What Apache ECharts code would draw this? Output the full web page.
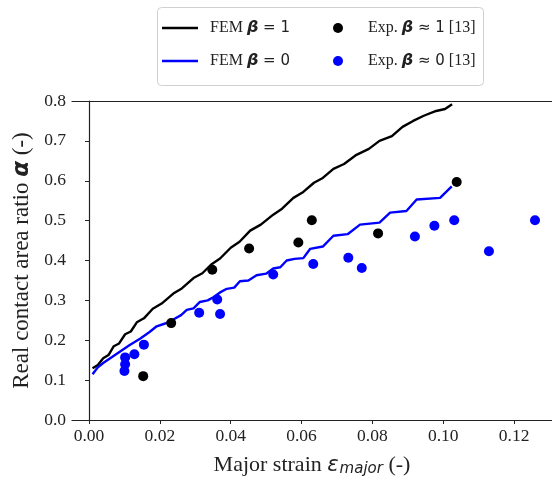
<!DOCTYPE html>
<html>
<head>
<meta charset="utf-8">
<script src="https://cdn.jsdelivr.net/npm/echarts@6/dist/echarts.min.js"></script>
<style>
  html, body { margin: 0; padding: 0; background: #fff; }
  #main { width: 552px; height: 482px; }
</style>
</head>
<body>
<div id="main"></div>
<script>
// FEM curves [strain, ratio]
var femBeta1 = [[0.001,0.130],[0.0025,0.138],[0.004,0.155],[0.0055,0.163],[0.007,0.185],[0.0085,0.192],[0.0102,0.215],[0.0118,0.222],[0.0135,0.245],[0.0155,0.255],[0.018,0.279],[0.0205,0.292],[0.0238,0.317],[0.0262,0.330],[0.0295,0.356],[0.032,0.368],[0.0345,0.390],[0.037,0.405],[0.040,0.432],[0.0425,0.447],[0.0455,0.475],[0.0485,0.490],[0.052,0.515],[0.0545,0.530],[0.0577,0.557],[0.0605,0.572],[0.0635,0.595],[0.066,0.607],[0.069,0.630],[0.072,0.642],[0.0755,0.665],[0.079,0.680],[0.082,0.700],[0.0855,0.712],[0.0885,0.735],[0.0915,0.750],[0.0945,0.763],[0.098,0.775],[0.1005,0.780],[0.1025,0.792]]
var femBeta0 = [[0.001,0.115],[0.0025,0.132],[0.004,0.143],[0.0065,0.158],[0.0088,0.172],[0.0115,0.188],[0.0144,0.204],[0.017,0.220],[0.0191,0.235],[0.0215,0.242],[0.0238,0.252],[0.026,0.263],[0.0276,0.276],[0.0295,0.280],[0.0313,0.296],[0.0335,0.300],[0.0351,0.308],[0.037,0.320],[0.0389,0.329],[0.041,0.332],[0.0426,0.348],[0.045,0.350],[0.0473,0.363],[0.050,0.367],[0.052,0.380],[0.054,0.383],[0.0558,0.400],[0.058,0.404],[0.0605,0.406],[0.0624,0.429],[0.066,0.435],[0.069,0.462],[0.073,0.466],[0.0765,0.490],[0.082,0.495],[0.085,0.520],[0.0896,0.524],[0.0925,0.553],[0.0991,0.557],[0.1024,0.586]]
// experiments [13]
var expBeta1 = [[0.0153,0.110],[0.0232,0.243],[0.0348,0.377],[0.0452,0.430],[0.0591,0.445],[0.0629,0.501],[0.0816,0.468],[0.1038,0.597]]
var expBeta0 = [[0.0100,0.123],[0.0102,0.140],[0.0102,0.157],[0.0128,0.165],[0.0155,0.189],[0.0311,0.269],[0.0362,0.302],[0.0370,0.266],[0.0520,0.365],[0.0633,0.391],[0.0732,0.407],[0.0770,0.381],[0.0920,0.460],[0.0975,0.487],[0.1031,0.501],[0.1129,0.423],[0.1259,0.501]]
var xTicks = [0, 0.02, 0.04, 0.06, 0.08, 0.10, 0.12]

var serif = 'Liberation Serif'
var mathFont = 'DejaVu Sans'

var chart = echarts.init(document.getElementById('main'))

var legendRich = {
    f: { fontFamily: serif, fontSize: 16, color: '#222', padding: [0, 0, 0, 7] },
    t: { fontFamily: serif, fontSize: 16, color: '#222' },
    m: { fontFamily: mathFont, fontSize: 16, fontStyle: 'italic', fontWeight: 'bold', color: '#222' },
    n: { fontFamily: mathFont, fontSize: 15, color: '#222' }
}
// a plain line as legend icon (no symbol)
var lineIcon = 'path://M0,0L36,0L36,2.4L0,2.4Z'

var option = {
    animation: false,
    backgroundColor: '#fff',
    grid: { left: 72, top: 101, right: 0, bottom: 60 },
    graphic: [{
        type: 'rect',
        shape: { x: 157.5, y: 7.5, width: 326, height: 78, r: 4 },
        style: { fill: '#fff', stroke: '#d0d0d0', lineWidth: 1 },
        z: 0
    }],
    legend: [{
        orient: 'vertical',
        left: 157, top: 15,
        itemWidth: 36, itemHeight: 10, itemGap: 17, itemTextGap: 14,
        data: [{ name: 'FEM1', icon: lineIcon }, { name: 'FEM0', icon: lineIcon }],
        formatter: function (name) {
            return name === 'FEM1' ? '{f|FEM }{m|β}{n| = 1}' : '{f|FEM }{m|β}{n| = 0}'
        },
        textStyle: { rich: legendRich }
    }, {
        orient: 'vertical',
        left: 328, top: 15,
        itemWidth: 36, itemHeight: 10, itemGap: 17, itemTextGap: 19,
        data: [{ name: 'EXP1', icon: 'circle' }, { name: 'EXP0', icon: 'circle' }],
        formatter: function (name) {
            return name === 'EXP1' ? '{f|Exp. }{m|β}{n| ≈ 1}{t| [13]}' : '{f|Exp. }{m|β}{n| ≈ 0}{t| [13]}'
        },
        textStyle: { rich: legendRich }
    }],
    xAxis: [{
        type: 'value',
        min: -0.0048, max: 0.1307,
        name: '{t|Major strain }{m|ε}{s|major}{t| (-)}',
        nameLocation: 'middle', nameGap: 34,
        nameTextStyle: {
            rich: {
                t: { fontFamily: serif, fontSize: 22, color: '#222' },
                m: { fontFamily: mathFont, fontSize: 21, fontStyle: 'italic', color: '#222' },
                s: { fontFamily: mathFont, fontSize: 15, fontStyle: 'italic', color: '#222', padding: [8, 0, 0, 1] }
            }
        },
        splitLine: { show: false },
        axisLine: { onZero: false, lineStyle: { color: '#222', width: 1.2 } },
        axisTick: { inside: false, length: 4, customValues: xTicks, lineStyle: { color: '#222' } },
        axisLabel: {
            customValues: xTicks, fontFamily: serif, fontSize: 17.5, color: '#222', margin: 7,
            formatter: function (v) { return v.toFixed(2) }
        }
    }, {
        type: 'value', position: 'top',
        min: -0.0048, max: 0.1307,
        splitLine: { show: false },
        axisLine: { show: true, onZero: false, lineStyle: { color: '#222', width: 1.2 } },
        axisTick: { show: false },
        axisLabel: { show: false }
    }],
    yAxis: {
        type: 'value',
        min: 0, max: 0.8, interval: 0.1,
        name: '{t|Real contact area ratio }{m|α}{t| (-)}',
        nameLocation: 'middle', nameGap: 38, nameRotate: 90,
        nameTextStyle: {
            rich: {
                t: { fontFamily: serif, fontSize: 23, color: '#222' },
                m: { fontFamily: mathFont, fontSize: 23, fontStyle: 'italic', fontWeight: 'bold', color: '#222' }
            }
        },
        splitLine: { show: false },
        axisLine: { show: true, lineStyle: { color: '#222', width: 1.2 } },
        axisTick: { show: true, inside: false, length: 4, lineStyle: { color: '#222' } },
        axisLabel: {
            fontFamily: serif, fontSize: 17.5, color: '#222', margin: 6,
            formatter: function (v) { return v.toFixed(1) }
        }
    },
    series: [{
        name: 'FEM1', type: 'line', data: femBeta1,
        symbol: 'none', showSymbol: false,
        lineStyle: { color: '#000', width: 2.4 }, itemStyle: { color: '#000' }, z: 2
    }, {
        name: 'FEM0', type: 'line', data: femBeta0,
        symbol: 'none', showSymbol: false,
        lineStyle: { color: '#0000ff', width: 2.4 }, itemStyle: { color: '#0000ff' }, z: 2
    }, {
        name: 'EXP1', type: 'scatter', data: expBeta1,
        symbol: 'circle', symbolSize: 10, itemStyle: { color: '#000', opacity: 1 }, z: 3
    }, {
        name: 'EXP0', type: 'scatter', data: expBeta0,
        symbol: 'circle', symbolSize: 10, itemStyle: { color: '#0000ff', opacity: 1 }, z: 3
    }]
}

chart.setOption(option)
</script>
</body>
</html>
